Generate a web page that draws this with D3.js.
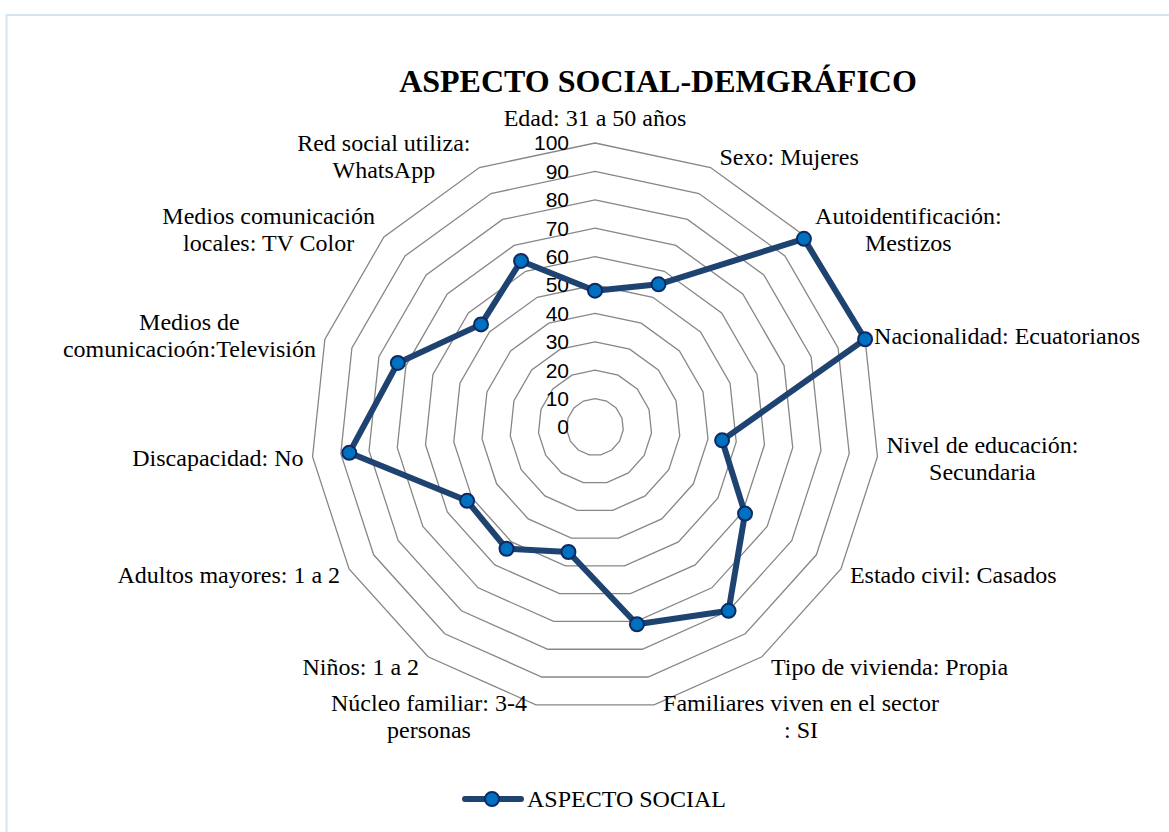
<!DOCTYPE html>
<html>
<head>
<meta charset="utf-8">
<script src="https://cdn.jsdelivr.net/npm/d3@7"></script>
<style>
  body { margin: 0; background: #fff; }
  svg { display: block; }
</style>
</head>
<body>
<svg id="chart" width="1169" height="832"></svg>
<script>
const categories = [
  "Edad: 31 a 50 años",
  "Sexo: Mujeres",
  "Autoidentificación:\nMestizos",
  "Nacionalidad: Ecuatorianos",
  "Nivel de educación:\nSecundaria",
  "Estado civil: Casados",
  "Tipo de vivienda: Propia",
  "Familiares viven en el sector\n: SI",
  "Núcleo familiar: 3-4\npersonas",
  "Niños: 1 a 2",
  "Adultos mayores: 1 a 2",
  "Discapacidad: No",
  "Medios de\ncomunicacioón:Televisión",
  "Medios comunicación\nlocales: TV Color",
  "Red social utiliza:\nWhatsApp"
];
const values = [48, 55, 99, 100, 45, 61, 80, 71, 45, 53, 52, 87, 73, 54, 64];
const ticks = [0, 10, 20, 30, 40, 50, 60, 70, 80, 90, 100];
const seriesName = "ASPECTO SOCIAL";
const title = "ASPECTO SOCIAL-DEMGRÁFICO";

const cx = 595, cy = 427, R = 284;
const svg = d3.select("svg#chart");
const serif = "'Liberation Serif', 'Times New Roman', serif";

// chart area border (runs off the bottom/right edge)
svg.append("rect")
  .attr("x", 6.5).attr("y", 15)
  .attr("width", 1200).attr("height", 900)
  .attr("fill", "none")
  .attr("stroke", "#d6e3f3")
  .attr("stroke-width", 2);

const r = d3.scaleLinear().domain([0, 100]).range([0, R]);
const angle = d3.scaleLinear().domain([0, categories.length]).range([0, 2 * Math.PI]);
const pt = (i, v) => [cx + r(v) * Math.sin(angle(i)), cy - r(v) * Math.cos(angle(i))];

// grid rings
svg.append("g")
  .selectAll("path")
  .data(ticks.slice(1))
  .join("path")
  .attr("d", (t) => d3.line()(categories.map((_, i) => pt(i, t))) + "Z")
  .attr("fill", "none")
  .attr("stroke", "#878787")
  .attr("stroke-width", 1.3);

// tick labels along the top axis
svg.append("g")
  .selectAll("text")
  .data(ticks)
  .join("text")
  .attr("x", cx - 26)
  .attr("y", (t) => cy - r(t))
  .attr("dy", "0.35em")
  .attr("text-anchor", "end")
  .attr("font-family", "'Liberation Sans', Arial, sans-serif")
  .attr("font-size", 21)
  .attr("fill", "#000")
  .text((t) => t);

// category labels
const labels = svg.append("g")
  .attr("font-family", serif)
  .attr("font-size", 24)
  .attr("fill", "#000");

categories.forEach((c, i) => {
  const a = angle(i);
  const [vx, vy] = pt(i, 100);
  const lines = c.split("\n");
  const lh = 27;
  const s = Math.sin(a), co = Math.cos(a);
  let midY = vy - 12 * co;
  if (Math.abs(s) < 0.05) midY -= 13;
  const t = labels.append("text").attr("text-anchor", "middle");
  const spans = lines.map((l, k) =>
    t.append("tspan")
      .attr("y", midY + (k - (lines.length - 1) / 2) * lh)
      .attr("dy", "0.35em")
      .text(l)
  );
  const w = d3.max(spans, (sp) => sp.node().getComputedTextLength());
  let x;
  if (Math.abs(s) < 0.05) x = vx;
  else if (s > 0) x = vx + 9 + w / 2;
  else x = vx - 9 - w / 2;
  spans.forEach((sp) => sp.attr("x", x));
});

// series
const lineColor = "#1f4371";
const pts = values.map((v, i) => pt(i, v));
svg.append("path")
  .attr("d", d3.line()(pts) + "Z")
  .attr("fill", "none")
  .attr("stroke", lineColor)
  .attr("stroke-width", 6)
  .attr("stroke-linejoin", "round");

svg.append("g")
  .selectAll("circle")
  .data(pts)
  .join("circle")
  .attr("cx", (d) => d[0])
  .attr("cy", (d) => d[1])
  .attr("r", 7)
  .attr("fill", "#0070c0")
  .attr("stroke", "#0d2a63")
  .attr("stroke-width", 2);

// title
svg.append("text")
  .attr("x", 658)
  .attr("y", 92)
  .attr("text-anchor", "middle")
  .attr("font-family", serif)
  .attr("font-weight", "bold")
  .attr("font-size", 32)
  .text(title);

// legend
const lg = svg.append("g").attr("transform", "translate(465,799)");
lg.append("line")
  .attr("x1", 0).attr("x2", 56)
  .attr("stroke", lineColor)
  .attr("stroke-width", 6)
  .attr("stroke-linecap", "round");
lg.append("circle")
  .attr("cx", 27).attr("r", 7)
  .attr("fill", "#0070c0")
  .attr("stroke", "#0d2a63")
  .attr("stroke-width", 2);
lg.append("text")
  .attr("x", 62).attr("dy", "0.35em")
  .attr("font-family", serif)
  .attr("font-size", 24)
  .text(seriesName);
</script>
</body>
</html>
